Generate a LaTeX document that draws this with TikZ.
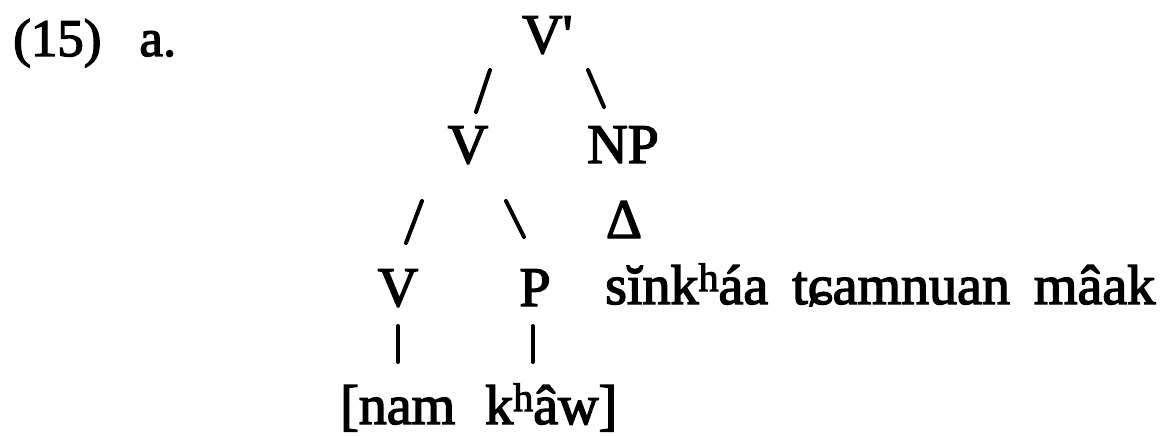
\documentclass[tikz,border=0pt]{standalone}
\usepackage{fontspec}
\setmainfont{Liberation Serif}[Ligatures=TeXOff,FakeBold=2.5]
\newcommand{\asp}{\raisebox{13pt}{\fontsize{40}{40}\selectfont h}}
\begin{document}
\begin{tikzpicture}[x=1pt,y=-1pt,
  lbl/.style={inner sep=0pt,font=\fontsize{56}{60}\selectfont},
  exlbl/.style={inner sep=0pt,font=\fontsize{53}{56}\selectfont},
  stroke/.style={line width=4pt,line cap=round}]
\useasboundingbox (0,0) rectangle (1164,436);
% labels
\node[exlbl,anchor=base west] (ex) at (13,56) {(15)\hspace{38pt}a.};
\node[lbl,anchor=base west] (vbar) at (522,53) {V\symbol{"27}};
\node[lbl,anchor=base] (v2) at (468,163) {V};
\node[lbl,anchor=base] (np) at (623,163) {NP};
\node[lbl,anchor=base] (tri) at (624,238) {Δ};
\node[lbl,anchor=base] (v3) at (398,306) {V};
\node[lbl,anchor=base] (p) at (535,306) {P};
\node[lbl,anchor=base west] (gloss) at (605,304) {sĭnk\asp áa\hspace{24pt}tɕamnuan\hspace{24pt}mâak};
\node[lbl,anchor=base west] (form) at (340,424) {[nam\hspace{30pt}k\asp âw]};
% stroke ends
\coordinate (s1a) at (490,70);  \coordinate (s1b) at (476,112);
\coordinate (s2a) at (588,70);  \coordinate (s2b) at (604,107);
\coordinate (s3a) at (422,201); \coordinate (s3b) at (406,243);
\coordinate (s4a) at (506,201); \coordinate (s4b) at (524,237);
\coordinate (b1a) at (398,326); \coordinate (b1b) at (398,362);
\coordinate (b2a) at (533,326); \coordinate (b2b) at (533,362);
\draw[stroke] (s1a) -- (s1b);
\draw[stroke] (s2a) -- (s2b);
\draw[stroke] (s3a) -- (s3b);
\draw[stroke] (s4a) -- (s4b);
\draw[stroke] (b1a) -- (b1b);
\draw[stroke] (b2a) -- (b2b);
\end{tikzpicture}
\end{document}
